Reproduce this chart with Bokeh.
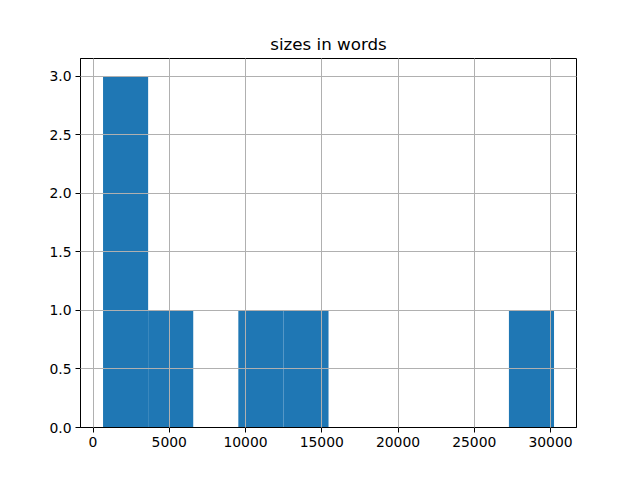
from bokeh.plotting import figure
from bokeh.models import Range1d, FixedTicker, NumeralTickFormatter
from bokeh.embed import file_html
from bokeh.resources import INLINE

# histogram of document sizes (words), 10 bins
bin_edges = [658, 3615, 6572, 9529, 12486, 15443, 18400, 21357, 24314, 27271, 30228]
counts = [3, 1, 0, 1, 1, 0, 0, 0, 0, 1]
x_ticks = [0, 5000, 10000, 15000, 20000, 25000, 30000]
y_ticks = [0.0, 0.5, 1.0, 1.5, 2.0, 2.5, 3.0]

FONT = "DejaVu Sans"

p = figure(width=640, height=480, output_backend="svg", toolbar_location=None,
           x_range=Range1d(-820, 31702), y_range=Range1d(0, 3.15),
           title="sizes in words",
           min_border_left=80, min_border_right=64, min_border_top=58, min_border_bottom=53)

p.quad(left=bin_edges[:-1], right=bin_edges[1:], bottom=[0] * len(counts), top=counts,
       fill_color="#1f77b4", line_color=None)

p.title.align = "center"
p.title.text_font = FONT
p.title.text_font_size = "16.7px"
p.title.text_font_style = "normal"
p.title.text_color = "black"
p.title.standoff = 9

p.xaxis.ticker = FixedTicker(ticks=x_ticks)
p.yaxis.ticker = FixedTicker(ticks=y_ticks)
p.yaxis.formatter = NumeralTickFormatter(format="0.0")
p.xaxis.formatter = NumeralTickFormatter(format="0")

for ax in (p.xaxis[0], p.yaxis[0]):
    ax.major_label_text_font = FONT
    ax.major_label_text_font_size = "13.9px"
    ax.major_label_text_color = "black"
    ax.axis_line_color = "black"
    ax.major_tick_line_color = "black"
    ax.major_tick_out = 5
    ax.major_tick_in = 0
    ax.minor_tick_line_color = None
    ax.major_label_standoff = 4

p.outline_line_color = "black"
p.outline_line_width = 1
p.outline_line_alpha = 1

for g in (p.xgrid[0], p.ygrid[0]):
    g.grid_line_color = "#b0b0b0"
    g.grid_line_width = 1
    g.level = "overlay"

p.background_fill_color = "white"
p.border_fill_color = "white"

open("out.html", "w").write(file_html(p, INLINE))
